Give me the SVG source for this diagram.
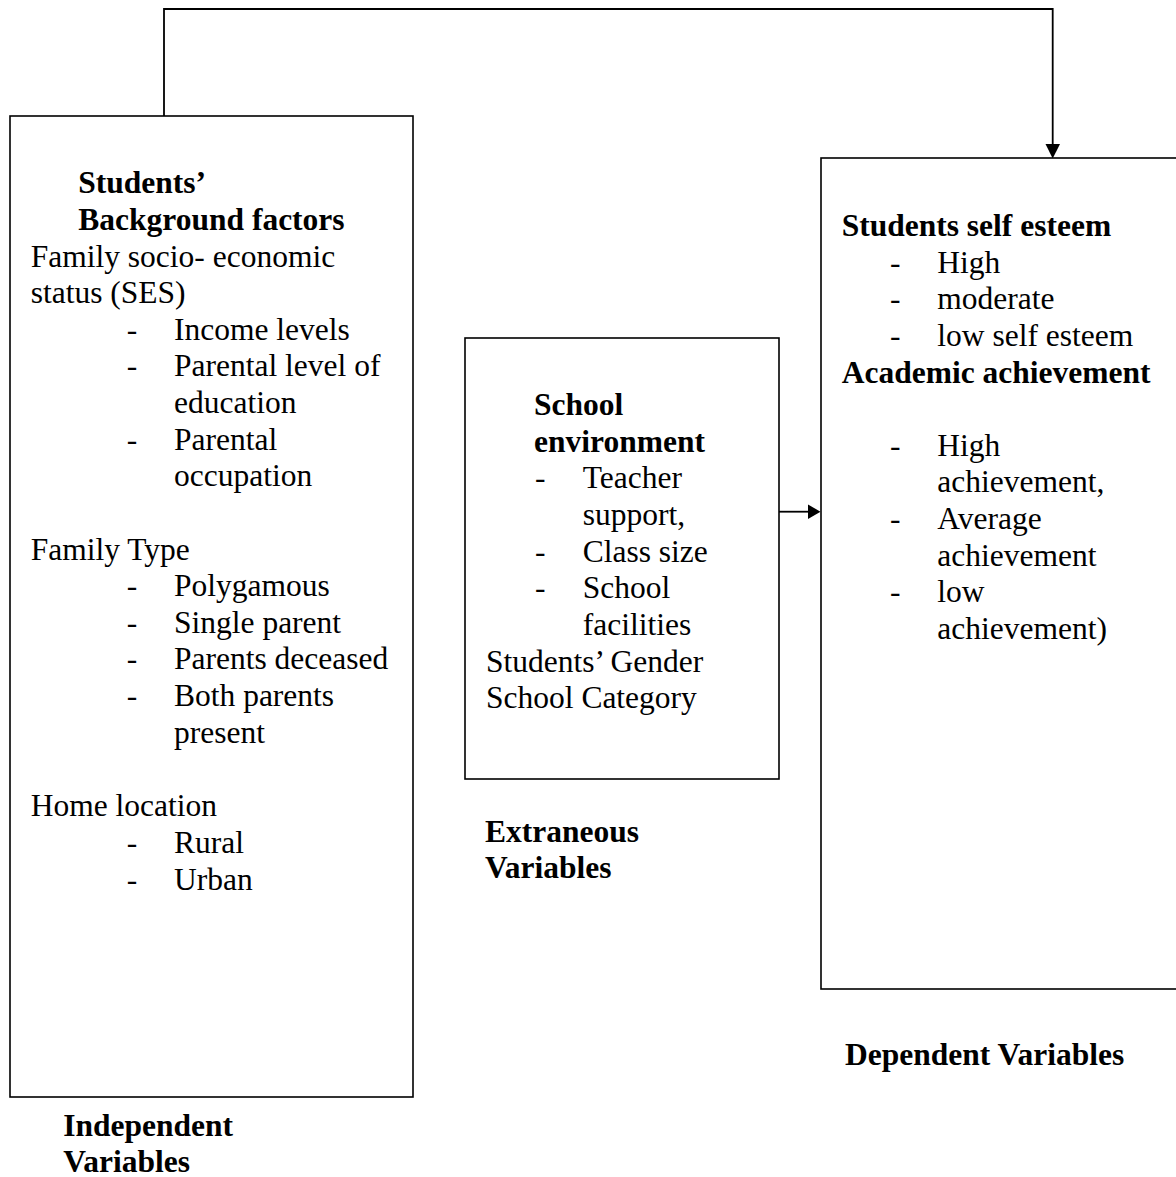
<svg xmlns="http://www.w3.org/2000/svg" width="1176" height="1177" viewBox="0 0 1176 1177">
<style>
text{font-family:"Liberation Serif","Times New Roman",serif;font-size:31.5px;fill:#000}
.b{font-weight:bold}
.box{fill:#fff;stroke:#000;stroke-width:1.6}
.ln{fill:none;stroke:#000;stroke-width:1.8}
.ah{fill:#000;stroke:none}
</style>
<rect width="1176" height="1177" fill="#fff"/>
<g id="connectors">
<polyline class="ln" points="164,116 164,9 1052.7,9 1052.7,146"/>
<polygon class="ah" points="1045.5,144 1060,144 1052.7,158.5"/>
<line class="ln" x1="779" y1="511.7" x2="810" y2="511.7"/>
<polygon class="ah" points="808,504.5 808,519 820.5,511.7"/>
</g>
<g id="independent">
<rect class="box" x="10" y="116" width="403" height="981"/>
<text class="b" x="78.3" y="193.3">Students’</text>
<text class="b" x="78.3" y="229.9">Background factors</text>
<text x="30.7" y="266.5">Family socio- economic</text>
<text x="30.7" y="303">status (SES)</text>
<text x="126.7" y="339.5">-</text><text x="174" y="339.5">Income levels</text>
<text x="126.7" y="376">-</text><text x="174" y="376">Parental level of</text>
<text x="174" y="413">education</text>
<text x="126.7" y="449.5">-</text><text x="174" y="449.5">Parental</text>
<text x="174" y="486">occupation</text>
<text x="30.7" y="559.5">Family Type</text>
<text x="126.7" y="596">-</text><text x="174" y="596">Polygamous</text>
<text x="126.7" y="632.5">-</text><text x="174" y="632.5">Single parent</text>
<text x="126.7" y="669">-</text><text x="174" y="669">Parents deceased</text>
<text x="126.7" y="706">-</text><text x="174" y="706">Both parents</text>
<text x="174" y="742.5">present</text>
<text x="30.7" y="815.8">Home location</text>
<text x="126.7" y="852.5">-</text><text x="174" y="852.5">Rural</text>
<text x="126.7" y="889.5">-</text><text x="174" y="889.5">Urban</text>
<text class="b" x="63.3" y="1136.2">Independent</text>
<text class="b" x="63.3" y="1172">Variables</text>
</g>
<g id="extraneous">
<rect class="box" x="465" y="338" width="314" height="441"/>
<text class="b" x="534" y="415">School</text>
<text class="b" x="534" y="451.7">environment</text>
<text x="535" y="488.3">-</text><text x="582.7" y="488.3">Teacher</text>
<text x="582.7" y="525">support,</text>
<text x="535" y="561.7">-</text><text x="582.7" y="561.7">Class size</text>
<text x="535" y="598.3">-</text><text x="582.7" y="598.3">School</text>
<text x="582.7" y="635">facilities</text>
<text x="486" y="671.7">Students’ Gender</text>
<text x="486" y="708.3">School Category</text>
<text class="b" x="485" y="841.7">Extraneous</text>
<text class="b" x="485" y="878.3">Variables</text>
</g>
<g id="dependent">
<rect class="box" x="821" y="158" width="380" height="831"/>
<text class="b" x="841.7" y="236">Students self esteem</text>
<text x="890" y="272.7">-</text><text x="937.3" y="272.7"> High</text>
<text x="890" y="309.3">-</text><text x="937.3" y="309.3">moderate</text>
<text x="890" y="346">-</text><text x="937.3" y="346">low self esteem</text>
<text class="b" x="841.7" y="382.7">Academic achievement</text>
<text x="890" y="455.7">-</text><text x="937.3" y="455.7">High</text>
<text x="937.3" y="492.3">achievement,</text>
<text x="890" y="529">-</text><text x="937.3" y="529">Average</text>
<text x="937.3" y="565.7">achievement</text>
<text x="890" y="602.3">-</text><text x="937.3" y="602.3">low</text>
<text x="937.3" y="639">achievement)</text>
<text class="b" x="845" y="1065">Dependent Variables</text>
</g>
</svg>
